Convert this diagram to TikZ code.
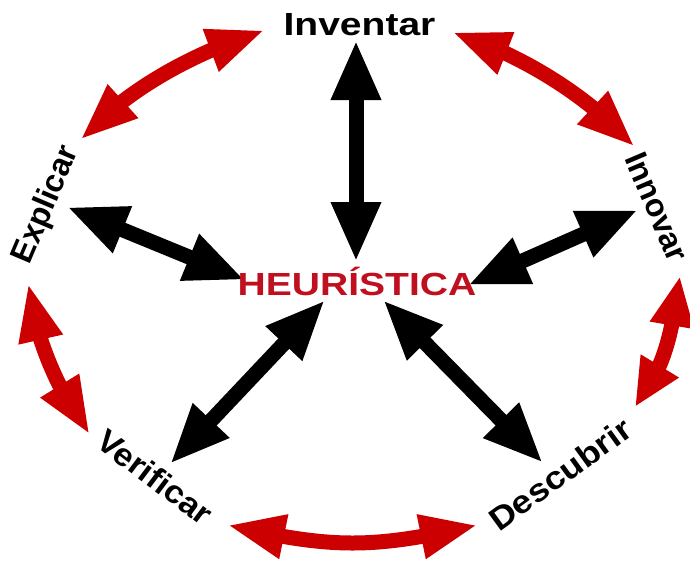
\documentclass[tikz,border=0pt]{standalone}
\usepackage{fontspec}
\setmainfont{Liberation Sans}
\usetikzlibrary{arrows.meta,bending}
\definecolor{arrred}{RGB}{204,0,0}
\definecolor{txtred}{RGB}{192,16,32}
\begin{document}
\begin{tikzpicture}[x=1pt,y=-1pt,
  lbl/.style={font=\bfseries\fontsize{32}{38}\selectfont, inner sep=0pt},
  blk/.style={line width=15pt, draw=black, {Triangle[width=46pt,length=60pt]}-{Triangle[width=46pt,length=60pt]}},
  redarr/.style={line width=15pt, draw=arrred, {Triangle[width=41pt,length=58pt]}-{Triangle[width=41pt,length=58pt]}},
  redshort/.style={line width=15pt, draw=arrred, {Triangle[width=41pt,length=50pt]}-{Triangle[width=41pt,length=48pt]}}]
\useasboundingbox (0,0) rectangle (690,563);
% arrow end points
\coordinate (bInvO) at (356,40);   \coordinate (bInvI) at (356,262);
\coordinate (bExpO) at (67,207);   \coordinate (bExpI) at (245,280);
\coordinate (bInnO) at (638,210);  \coordinate (bInnI) at (468,285);
\coordinate (bVerO) at (170,464);  \coordinate (bVerI) at (325,300);
\coordinate (bDesO) at (543,463);  \coordinate (bDesI) at (383,300);
\coordinate (r1a) at (265,30);  \coordinate (r1b) at (80,140);
\coordinate (r2a) at (452,32);  \coordinate (r2b) at (635,147);
\coordinate (r3a) at (28,283);  \coordinate (r3b) at (90,435);
\coordinate (r4a) at (227,525); \coordinate (r4b) at (478,525);
\coordinate (r5a) at (680,276); \coordinate (r5b) at (635,407);
% black arrows
\draw[blk] (bInvO) -- (bInvI);
\draw[blk] (bExpO) -- (bExpI);
\draw[blk] (bInnO) -- (bInnI);
\draw[blk] (bVerI) -- (bVerO);
\draw[blk] (bDesI) -- (bDesO);
% red arrows
\draw[redarr] (r1a) .. controls (196,52) and (129,87) .. (r1b);
\draw[redarr] (r2a) .. controls (521,54.5) and (586,94) .. (r2b);
\draw[redarr] (r3a) .. controls (35,338) and (57.5,391) .. (r3b);
\draw[redarr] (r4a) .. controls (334,549) and (371,549) .. (r4b);
\draw[redshort] (r5a) .. controls (671.5,330) and (668,363) .. (r5b);
% labels
\node[lbl, anchor=base, xscale=1.22] (inv) at (359.5,35) {Inventar};
\node[lbl, anchor=base, xscale=1.22, text=txtred] (heu) at (357,295) {HEURÍSTICA};
\node[lbl, rotate=67] (exp) at (46.5,205) {Explicar};
\node[lbl, rotate=-67] (inn) at (657,207) {Innovar};
\node[lbl, rotate=-37, xscale=1.07] (ver) at (155,477) {Verificar};
\node[lbl, rotate=36, xscale=1.12] (des) at (560,474) {Descubrir};
\end{tikzpicture}
\end{document}
